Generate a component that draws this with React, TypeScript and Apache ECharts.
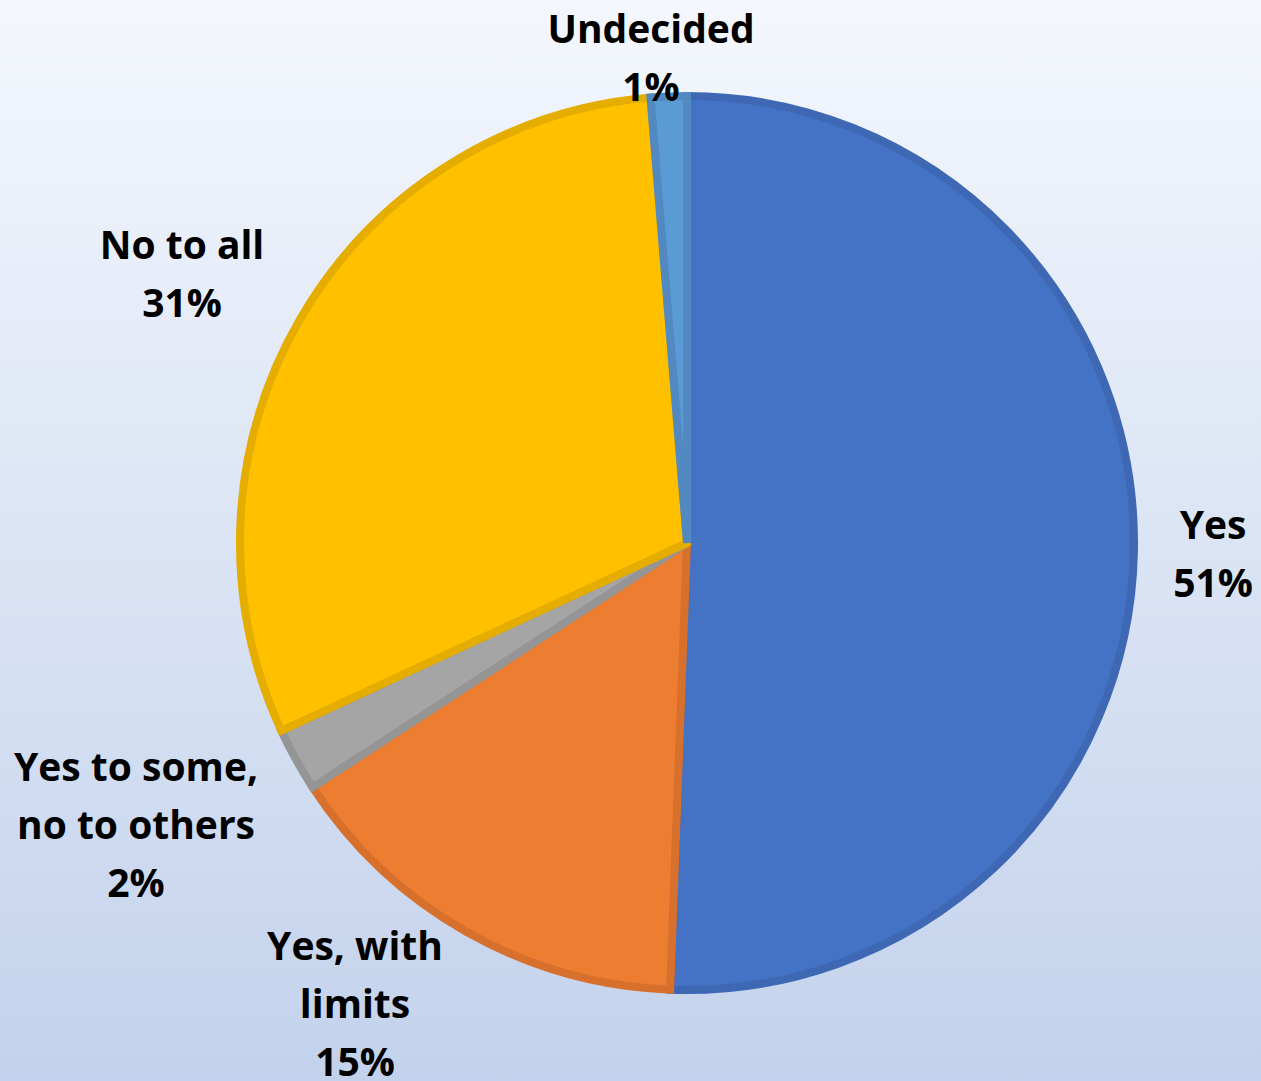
import React, { useEffect, useRef } from "react";
import * as echarts from "echarts";

// Data
const CATEGORIES = ["Yes", "Yes, with\nlimits", "Yes to some,\nno to others", "No to all", "Undecided"];
const VALUES = [50.6, 15.2, 2.3, 30.6, 1.3];
const FILL_COLORS = ["#4472C4", "#ED7D31", "#A5A5A5", "#FFC000", "#5B9BD5"];
const BORDER_COLORS = ["#3E68B4", "#D6702C", "#959595", "#E5AD00", "#5189C0"];

// Label placement (offset of each label's centre from the pie centre)
const LABEL_OFFSETS: [number, number][] = [
  [526, 9],
  [-332, 459],
  [-551, 280],
  [-505, -271],
  [-36, -487],
];

const CX = 687;
const CY = 543;

export default function App() {
  const ref = useRef<HTMLDivElement>(null);
  useEffect(() => {
    document.body.style.margin = "0";
    if (!ref.current) return;
    const chart = echarts.init(ref.current, undefined, { renderer: "svg" });
    const total = VALUES.reduce((a, b) => a + b, 0);
    chart.setOption({
      animation: false,
      backgroundColor: {
        type: "linear",
        x: 0,
        y: 0,
        x2: 0,
        y2: 1,
        colorStops: [
          { offset: 0, color: "#F4F7FD" },
          { offset: 1, color: "#C3D2EC" },
        ],
      },
      series: [
        {
          type: "pie",
          center: [CX, CY],
          radius: 447,
          startAngle: 90,
          clockwise: true,
          avoidLabelOverlap: false,
          data: CATEGORIES.map((name, i) => ({
            name,
            value: VALUES[i],
            itemStyle: {
              color: FILL_COLORS[i],
              borderColor: BORDER_COLORS[i],
              borderWidth: 8,
              borderJoin: "miter",
            },
          })),
          label: {
            show: true,
            position: "outside",
            formatter: (p: any) => `${p.name}\n${Math.round((p.value / total) * 100)}%`,
            fontFamily: "Open Sans",
            fontWeight: "bold",
            fontSize: 39,
            lineHeight: 58,
            color: "#000000",
            align: "center",
          },
          labelLine: { show: false },
          labelLayout: (params: any) => {
            const off = LABEL_OFFSETS[params.dataIndex];
            return {
              x: CX + off[0],
              y: CY + off[1],
              align: "center",
              verticalAlign: "middle",
            };
          },
          emphasis: { disabled: true },
        },
      ],
    });
    return () => chart.dispose();
  }, []);
  return (
    <div
      ref={ref}
      style={{ position: "absolute", left: 0, top: 0, width: 1261, height: 1081 }}
    />
  );
}
